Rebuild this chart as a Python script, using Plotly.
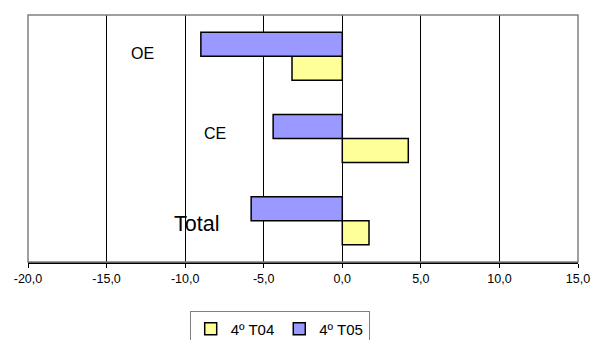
import plotly.graph_objects as go

categories = ["Total", "CE", "OE"]
t04_values = [1.7, 4.2, -3.2]
t05_values = [-5.8, -4.4, -9.0]
series_names = ["4º T04", "4º T05"]
tick_vals = [-20, -15, -10, -5, 0, 5, 10, 15]
tick_labels = ["-20,0", "-15,0", "-10,0", "-5,0", "0,0", "5,0", "10,0", "15,0"]

FONT = "Liberation Sans, Arial, sans-serif"

fig = go.Figure()
fig.add_trace(go.Bar(
    y=categories, x=t04_values, name=series_names[0], orientation="h",
    marker=dict(color="#FFFF99", line=dict(color="black", width=1.5)),
))
fig.add_trace(go.Bar(
    y=categories, x=t05_values, name=series_names[1], orientation="h",
    marker=dict(color="#9999FF", line=dict(color="black", width=1.5)),
))

# category labels placed inside the plot
label_pos = {"OE": (-12.7, 3, 16), "CE": (-8.1, 5, 16), "Total": (-9.25, -3.5, 21.5)}
for cat in categories:
    xv, ys, fs = label_pos[cat]
    fig.add_annotation(x=xv, y=cat, xref="x", yref="y", text=cat, showarrow=False,
                       yshift=ys, font=dict(family=FONT, size=fs, color="black"))

fig.update_layout(
    width=592, height=340,
    margin=dict(l=28, r=14, t=15, b=78, autoexpand=False),
    paper_bgcolor="white", plot_bgcolor="white",
    barmode="group", bargap=0.417, bargroupgap=0,
    font=dict(family=FONT, color="black"),
    showlegend=True,
    legend=dict(orientation="h", x=0.294, xanchor="left", y=-0.2, yanchor="top",
                font=dict(family=FONT, size=15, color="black"),
                bordercolor="#808080", borderwidth=1, bgcolor="white",
                traceorder="normal"),
    shapes=[dict(type="rect", xref="paper", yref="paper", x0=0, x1=1, y0=0, y1=1,
                 line=dict(color="#808080", width=1.5), layer="above")],
)
fig.update_xaxes(range=[-20, 15], tickvals=tick_vals, ticktext=tick_labels,
                 automargin=False,
                 showgrid=True, gridcolor="black", gridwidth=1,
                 zeroline=True, zerolinecolor="black", zerolinewidth=1,
                 showline=True, linecolor="black", linewidth=1.5,
                 ticks="outside", ticklen=4, tickcolor="black",
                 tickfont=dict(family=FONT, size=12.5, color="black"))
fig.update_yaxes(showticklabels=False, showgrid=False, zeroline=False, showline=False,
                 ticks="", automargin=False)

fig.write_html("out.html",
               config={"displayModeBar": False},
               post_script="document.body.style.margin='0';document.body.style.overflow='hidden';")
